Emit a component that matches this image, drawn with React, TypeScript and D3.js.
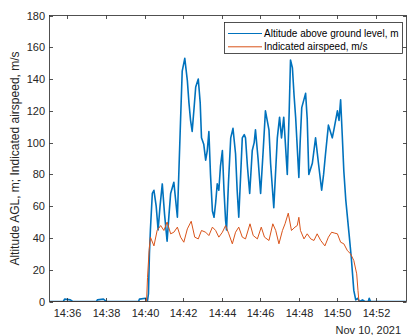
import React, { useEffect, useRef } from "react";
import * as d3 from "d3";

// Altitude above ground level, m
const altTimes = [
  "14:35:04", "14:35:47", "14:35:51", "14:36:09", "14:36:16", "14:37:30", "14:37:33", "14:37:52", "14:38:01",
  "14:39:41", "14:39:44", "14:40:03", "14:40:09",
  "14:40:12", "14:40:15", "14:40:18", "14:40:24", "14:40:29", "14:40:36", "14:40:42", "14:40:48", "14:40:55",
  "14:41:02", "14:41:10", "14:41:16", "14:41:21", "14:41:31", "14:41:36", "14:41:42", "14:41:47", "14:41:52",
  "14:41:57", "14:42:05", "14:42:13", "14:42:18", "14:42:23", "14:42:28", "14:42:34", "14:42:39", "14:42:47",
  "14:42:53", "14:42:57", "14:43:04", "14:43:10", "14:43:15", "14:43:20", "14:43:25", "14:43:31", "14:43:36",
  "14:43:41", "14:43:46", "14:43:51", "14:43:56", "14:44:02", "14:44:07", "14:44:12", "14:44:15", "14:44:21",
  "14:44:28", "14:44:35", "14:44:43", "14:44:48", "14:44:53", "14:44:59", "14:45:04", "14:45:10", "14:45:14",
  "14:45:20", "14:45:27", "14:45:35", "14:45:41", "14:45:45", "14:45:53", "14:46:01", "14:46:09", "14:46:16",
  "14:46:27", "14:46:32", "14:46:42", "14:46:53", "14:47:00", "14:47:06", "14:47:13", "14:47:24", "14:47:30",
  "14:47:34", "14:47:40", "14:47:45", "14:47:50", "14:48:00", "14:48:04", "14:48:09", "14:48:21", "14:48:26",
  "14:48:31", "14:48:42", "14:48:52", "14:49:01", "14:49:11", "14:49:17", "14:49:23", "14:49:32", "14:49:44",
  "14:49:49", "14:50:00", "14:50:05", "14:50:10", "14:50:15", "14:50:20", "14:50:26", "14:50:36", "14:50:43",
  "14:50:51", "14:50:57", "14:51:03", "14:51:09", "14:51:18", "14:51:25", "14:51:36", "14:51:39", "14:51:43",
  "14:53:35",
];
const altValues = [
  0, 0, 1.5, 1, 0, 0, 1, 1.5, 0,
  0, 1.5, 2, 0.5,
  5, 30, 45, 68, 70, 60, 45, 60, 74,
  55, 38, 55, 68, 75, 65, 53, 84, 115,
  145, 153, 139, 125, 114, 107, 122, 135, 140,
  125, 103, 99, 89, 95, 107, 80, 57, 53,
  62, 74, 70, 85, 95, 70, 51, 45, 75,
  103, 109, 93, 70, 53, 80, 103, 105, 103,
  85, 68, 95, 100, 108, 90, 68, 95, 120,
  108, 87, 59, 103, 116, 103, 116, 80, 120,
  152, 147, 130, 116, 78, 100, 122, 131, 115,
  80, 87, 103, 87, 70, 80, 93, 111, 103,
  108, 120, 114, 127, 105, 82, 64, 43, 28,
  7, 1, 2, 0, 1, 0, 0, 2, 0,
  0,
];

// Indicated airspeed, m/s
const iasTimes = [
  "14:35:04", "14:40:06", "14:40:09", "14:40:14", "14:40:18", "14:40:29", "14:40:39", "14:40:50", "14:41:00",
  "14:41:10", "14:41:21", "14:41:31", "14:41:42", "14:41:52", "14:42:02", "14:42:13", "14:42:25", "14:42:36",
  "14:42:47", "14:42:57", "14:43:10", "14:43:20", "14:43:31", "14:43:41", "14:43:51", "14:44:02", "14:44:12",
  "14:44:22", "14:44:33", "14:44:43", "14:44:53", "14:45:04", "14:45:14", "14:45:28", "14:45:38", "14:45:51",
  "14:46:03", "14:46:13", "14:46:27", "14:46:39", "14:46:48", "14:46:58", "14:47:09", "14:47:17", "14:47:27",
  "14:47:37", "14:47:48", "14:47:55", "14:48:00", "14:48:05", "14:48:16", "14:48:26", "14:48:37", "14:48:47",
  "14:48:57", "14:49:08", "14:49:21", "14:49:32", "14:49:42", "14:49:52", "14:50:00", "14:50:10", "14:50:20",
  "14:50:31", "14:50:41", "14:50:51", "14:51:00", "14:51:04", "14:51:07", "14:53:35",
];
const iasValues = [
  0, 0, 15, 32, 40.5, 35, 44.7, 47.8, 44.7,
  50, 42.6, 43.6, 46.8, 40.5, 37.3, 45.7, 50.5, 40.5,
  39.4, 44.7, 43.6, 41.5, 46.8, 44.7, 40.5, 43.6, 47.8,
  42.6, 36.3, 43.6, 46.8, 40.5, 39.4, 48.9, 41.5, 39.4,
  46.8, 40.5, 38.4, 48.9, 44.7, 36.3, 44.7, 48.9, 55.6,
  44.7, 46.8, 47.8, 53, 44.7, 39.4, 42.6, 39.4, 38.4,
  42.6, 38.4, 35, 40.5, 43.6, 43, 42.6, 37.3, 36.3,
  32, 30, 25.8, 17.4, 7, 0, 0,
];

const xTickLabels = ["14:36", "14:38", "14:40", "14:42", "14:44", "14:46", "14:48", "14:50", "14:52"];
const yTicks = [0, 20, 40, 60, 80, 100, 120, 140, 160, 180];
const seriesNames = ["Altitude above ground level, m", "Indicated airspeed, m/s"];
const seriesColors = ["#0072BD", "#D95319"];

const W = 409;
const H = 335;
const FONT = "'Liberation Sans', Arial, Helvetica, sans-serif";
const AXIS = "#262626";

const App: React.FC = () => {
  const svgRef = useRef<SVGSVGElement>(null);

  useEffect(() => {
    if (!svgRef.current) return;
    const svg = d3.select(svgRef.current);
    svg.selectAll("*").remove();

    const parse = d3.timeParse("%H:%M:%S");
    const left = 49.5, right = 406.5, top = 15.5, bottom = 301.5;

    const x = d3
      .scaleTime()
      .domain([parse("14:35:04")!, parse("14:53:35")!])
      .range([left, right]);
    const y = d3.scaleLinear().domain([0, 180]).range([bottom, top]);

    const alt = altTimes.map((t, i) => ({ t: parse(t)!, v: altValues[i] }));
    const ias = iasTimes.map((t, i) => ({ t: parse(t)!, v: iasValues[i] }));

    svg.append("rect").attr("width", W).attr("height", H).attr("fill", "white");

    svg
      .append("clipPath")
      .attr("id", "plotclip")
      .append("rect")
      .attr("x", left)
      .attr("y", top - 2)
      .attr("width", right - left)
      .attr("height", bottom - top + 2);

    const line = d3
      .line<{ t: Date; v: number }>()
      .x((d) => x(d.t))
      .y((d) => y(d.v));

    const g = svg.append("g").attr("clip-path", "url(#plotclip)");
    g.append("path")
      .datum(alt)
      .attr("d", line)
      .attr("fill", "none")
      .attr("stroke", seriesColors[0])
      .attr("stroke-width", 1.6)
      .attr("stroke-linejoin", "round");
    g.append("path")
      .datum(ias)
      .attr("d", line)
      .attr("fill", "none")
      .attr("stroke", seriesColors[1])
      .attr("stroke-width", 1)
      .attr("stroke-linejoin", "round");

    // frame
    svg
      .append("rect")
      .attr("x", left)
      .attr("y", top)
      .attr("width", right - left)
      .attr("height", bottom - top)
      .attr("fill", "none")
      .attr("stroke", AXIS)
      .attr("stroke-width", 0.8);

    const tickLen = 3.5;
    // x ticks
    const xTickDates = xTickLabels.map((s) => parse(s + ":00")!);
    xTickDates.forEach((d, i) => {
      const px = Math.round(x(d)) + 0.5;
      svg.append("line").attr("x1", px).attr("x2", px).attr("y1", bottom).attr("y2", bottom - tickLen).attr("stroke", AXIS).attr("stroke-width", 0.8);
      svg.append("line").attr("x1", px).attr("x2", px).attr("y1", top).attr("y2", top + tickLen).attr("stroke", AXIS).attr("stroke-width", 0.8);
      svg
        .append("text")
        .attr("x", px)
        .attr("y", 317)
        .attr("text-anchor", "middle")
        .attr("font-family", FONT)
        .attr("font-size", 11)
        .attr("fill", AXIS)
        .text(xTickLabels[i]);
    });

    svg
      .append("text")
      .attr("x", 401)
      .attr("y", 334)
      .attr("text-anchor", "end")
      .attr("font-family", FONT)
      .attr("font-size", 11)
      .attr("fill", AXIS)
      .text("Nov 10, 2021");

    // y ticks
    yTicks.forEach((v) => {
      const py = Math.round(y(v)) + 0.5;
      svg.append("line").attr("x1", left).attr("x2", left + tickLen).attr("y1", py).attr("y2", py).attr("stroke", AXIS).attr("stroke-width", 0.8);
      svg.append("line").attr("x1", right).attr("x2", right - tickLen).attr("y1", py).attr("y2", py).attr("stroke", AXIS).attr("stroke-width", 0.8);
      svg
        .append("text")
        .attr("x", 45)
        .attr("y", py)
        .attr("dy", "0.35em")
        .attr("text-anchor", "end")
        .attr("font-family", FONT)
        .attr("font-size", 11)
        .attr("fill", AXIS)
        .text(v);
    });

    svg
      .append("text")
      .attr("transform", `translate(19,${(top + bottom) / 2}) rotate(-90)`)
      .attr("text-anchor", "middle")
      .attr("font-family", FONT)
      .attr("font-size", 12)
      .attr("fill", AXIS)
      .text("Altitude AGL, m; Indicated airspeed, m/s");

    // legend
    const lg = svg.append("g");
    lg.append("rect")
      .attr("x", 224.5)
      .attr("y", 22.5)
      .attr("width", 178)
      .attr("height", 31)
      .attr("fill", "white")
      .attr("stroke", AXIS)
      .attr("stroke-width", 0.8);
    seriesNames.forEach((name, i) => {
      const ly = 33.5 + i * 13.3;
      lg.append("line")
        .attr("x1", 228)
        .attr("x2", 262)
        .attr("y1", ly)
        .attr("y2", ly)
        .attr("stroke", seriesColors[i])
        .attr("stroke-width", 1);
      lg.append("text")
        .attr("x", 264)
        .attr("y", ly)
        .attr("dy", "0.35em")
        .attr("font-family", FONT)
        .attr("font-size", 10)
        .attr("fill", "#000")
        .text(name);
    });
  }, []);

  return (
    <svg
      ref={svgRef}
      width={W}
      height={H}
      style={{ position: "absolute", left: 0, top: 0, display: "block" }}
    />
  );
};

export default App;
